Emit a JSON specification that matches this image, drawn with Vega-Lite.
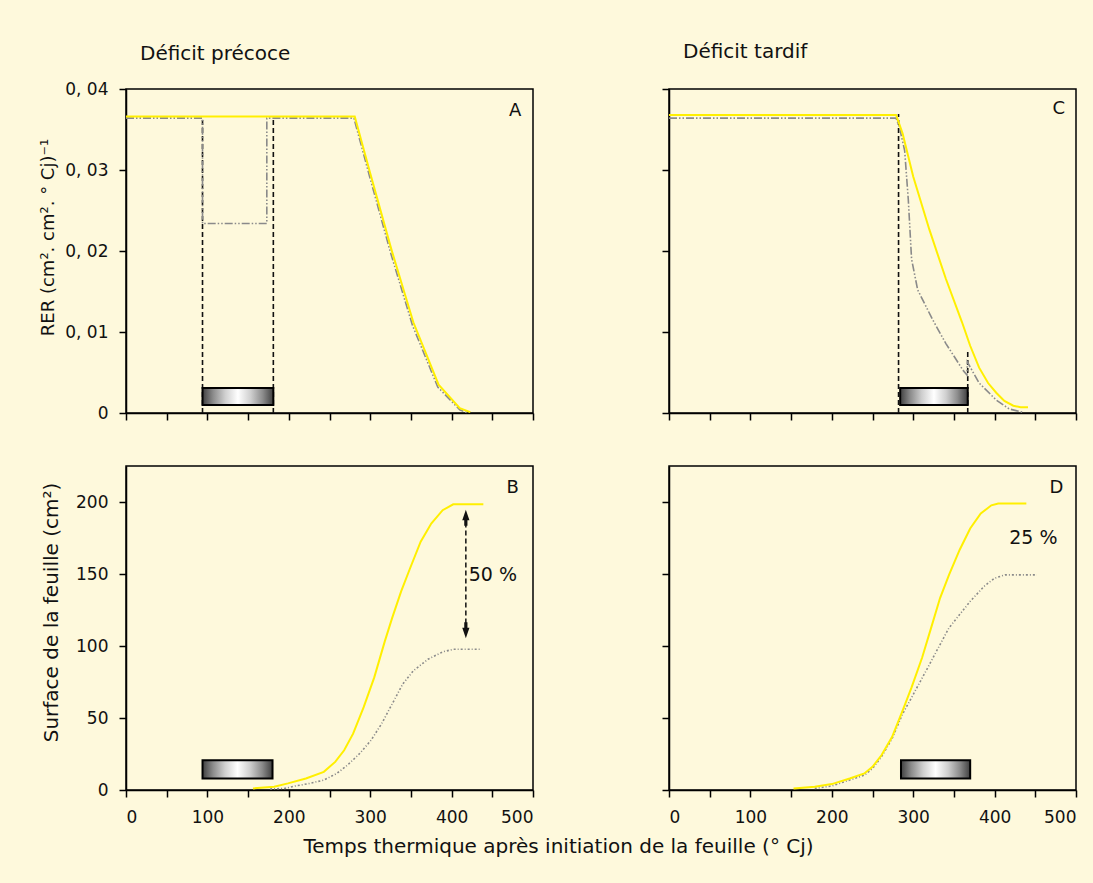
{
  "$schema": "https://vega.github.io/schema/vega-lite/v6.json",
  "background": "#FEF9DC",
  "padding": {"left": 38, "top": 41, "right": 30, "bottom": 60},
  "columns": 2,
  "spacing": {"row": 53, "column": 136},
  "bounds": "flush",
  "datasets": {
    "ctrlA": [
      {"t": 0, "v": 0.0366}, {"t": 281, "v": 0.0366}, {"t": 300, "v": 0.0296}, {"t": 326, "v": 0.0202},
      {"t": 353, "v": 0.0112}, {"t": 384, "v": 0.0035}, {"t": 410, "v": 0.0006}, {"t": 423, "v": 0.0001}
    ],
    "strA": [
      {"o": 1, "t": 0, "v": 0.0364}, {"o": 2, "t": 94, "v": 0.0364}, {"o": 3, "t": 94, "v": 0.0234},
      {"o": 4, "t": 173, "v": 0.0234}, {"o": 5, "t": 173, "v": 0.0364}, {"o": 6, "t": 280, "v": 0.0364},
      {"o": 7, "t": 299, "v": 0.0293}, {"o": 8, "t": 325, "v": 0.0198}, {"o": 9, "t": 352, "v": 0.0108},
      {"o": 10, "t": 383, "v": 0.0032}, {"o": 11, "t": 410, "v": 0.0004}, {"o": 12, "t": 420, "v": 0}
    ],
    "limA": [{"t": 94, "v": 0, "v2": 0.0366}, {"t": 181, "v": 0, "v2": 0.0366}],
    "barA": [{"t": 94, "t2": 181, "v": 0.001, "v2": 0.0031}],
    "labA": [{"t": 478, "v": 0.0373, "s": "A"}],
    "ctrlC": [
      {"t": 0, "v": 0.0368}, {"t": 279, "v": 0.0368}, {"t": 287, "v": 0.0345}, {"t": 300, "v": 0.0292},
      {"t": 320, "v": 0.0226}, {"t": 340, "v": 0.0166}, {"t": 360, "v": 0.0112}, {"t": 370, "v": 0.0083},
      {"t": 381, "v": 0.0056}, {"t": 392, "v": 0.0037}, {"t": 402, "v": 0.0025}, {"t": 412, "v": 0.0015},
      {"t": 423, "v": 0.0009}, {"t": 432, "v": 0.0007}, {"t": 441, "v": 0.0007}
    ],
    "strC": [
      {"o": 1, "t": 0, "v": 0.0364}, {"o": 2, "t": 279, "v": 0.0364}, {"o": 3, "t": 283, "v": 0.0353},
      {"o": 4, "t": 289.5, "v": 0.0324}, {"o": 5, "t": 294, "v": 0.0263}, {"o": 6, "t": 298, "v": 0.019},
      {"o": 7, "t": 305.5, "v": 0.0152}, {"o": 8, "t": 324, "v": 0.0115}, {"o": 9, "t": 340, "v": 0.0086},
      {"o": 10, "t": 361, "v": 0.0053}, {"o": 11, "t": 366, "v": 0.0047}, {"o": 12, "t": 366.5, "v": 0.0063},
      {"o": 13, "t": 381, "v": 0.0037}, {"o": 14, "t": 402, "v": 0.0016}, {"o": 15, "t": 418, "v": 0.0005},
      {"o": 16, "t": 434, "v": 0.0001}
    ],
    "limC": [{"t": 282, "v": 0, "v2": 0.0369}, {"t": 367, "v": 0, "v2": 0.0079}],
    "barC": [{"t": 284, "t2": 367, "v": 0.001, "v2": 0.0031}],
    "labC": [{"t": 479, "v": 0.0375, "s": "C"}],
    "ctrlB": [
      {"t": 156, "v": 1.1}, {"t": 182, "v": 2.3}, {"t": 199, "v": 4.6}, {"t": 221, "v": 8.0}, {"t": 243, "v": 12.6},
      {"t": 257, "v": 19.5}, {"t": 268, "v": 27.6}, {"t": 279, "v": 39.1}, {"t": 292, "v": 57.5}, {"t": 305, "v": 78.2},
      {"t": 318, "v": 103.4}, {"t": 327, "v": 119.5}, {"t": 338, "v": 137.9}, {"t": 349, "v": 154}, {"t": 362, "v": 172.4},
      {"t": 375, "v": 185}, {"t": 389, "v": 194.3}, {"t": 402, "v": 198.4}, {"t": 439, "v": 198.4}
    ],
    "strB": [
      {"t": 177, "v": 0.7}, {"t": 195, "v": 1.1}, {"t": 208, "v": 2.8}, {"t": 226, "v": 4.6}, {"t": 243, "v": 6.9},
      {"t": 259, "v": 11.5}, {"t": 272, "v": 17.2}, {"t": 287, "v": 25.3}, {"t": 301, "v": 34.5}, {"t": 314, "v": 46},
      {"t": 327, "v": 59.8}, {"t": 340, "v": 73.6}, {"t": 353, "v": 82.8}, {"t": 371, "v": 90.8}, {"t": 389, "v": 95.9},
      {"t": 402, "v": 97.7}, {"t": 437, "v": 97.7}
    ],
    "barB": [{"t": 94, "t2": 180, "v": 8, "v2": 20.7}],
    "arrowB": [{"t": 417.5, "v": 110, "v2": 190}],
    "headUp": [{"t": 417.5, "v": 189}],
    "headDown": [{"t": 417.5, "v": 111}],
    "labB": [{"t": 475, "v": 210, "s": "B"}],
    "noteB": [{"t": 421, "v": 149, "s": "50 %"}],
    "ctrlD": [
      {"t": 153, "v": 1.1}, {"t": 179, "v": 2.3}, {"t": 200, "v": 4.1}, {"t": 222, "v": 8.0}, {"t": 240, "v": 11.5},
      {"t": 250, "v": 16.1}, {"t": 261, "v": 24.1}, {"t": 274, "v": 36.8}, {"t": 287, "v": 55.2}, {"t": 298, "v": 71.3},
      {"t": 311, "v": 92}, {"t": 322, "v": 112.6}, {"t": 333, "v": 133.3}, {"t": 344, "v": 149.4}, {"t": 357, "v": 166.7},
      {"t": 370, "v": 181.6}, {"t": 383, "v": 192}, {"t": 396, "v": 197.7}, {"t": 404.5, "v": 198.9}, {"t": 439, "v": 198.9}
    ],
    "strD": [
      {"t": 179, "v": 1.1}, {"t": 200, "v": 2.8}, {"t": 222, "v": 6.9}, {"t": 240, "v": 10.3}, {"t": 250, "v": 14.9},
      {"t": 261, "v": 23}, {"t": 274, "v": 35.6}, {"t": 287, "v": 52.9}, {"t": 296, "v": 62.1}, {"t": 307, "v": 73.6},
      {"t": 318, "v": 85.1}, {"t": 331, "v": 98.9}, {"t": 344, "v": 112.6}, {"t": 357, "v": 121.8}, {"t": 370, "v": 131},
      {"t": 387, "v": 141.4}, {"t": 400, "v": 147.1}, {"t": 413, "v": 149.4}, {"t": 452, "v": 149.4}
    ],
    "barD": [{"t": 285, "t2": 370, "v": 8, "v2": 20.7}],
    "labD": [{"t": 476, "v": 210, "s": "D"}],
    "noteD": [{"t": 418, "v": 175, "s": "25 %"}]
  },
  "concat": [
    {
      "width": 407, "height": 324,
      "title": {"text": "Déficit précoce", "anchor": "start", "frame": "group", "dx": 14, "offset": 16},
      "encoding": {
        "x": {"type": "quantitative", "scale": {"domain": [0, 500], "nice": false},
              "axis": {"values": [0, 50, 100, 150, 200, 250, 300, 350, 400, 450, 500], "labels": false, "title": null}},
        "y": {"type": "quantitative", "scale": {"domain": [0, 0.04], "nice": false},
              "axis": {"values": [0, 0.01, 0.02, 0.03, 0.04],
                       "labelExpr": "datum.value == 0 ? '0' : replace(format(datum.value, '.2f'), '.', ', ')",
                       "title": "RER (cm². cm². ° Cj)⁻¹", "titleFontSize": 18, "titleX": -78, "titleY": 148}}
      },
      "layer": [
        {"data": {"name": "limA"}, "mark": {"type": "rule", "color": "#111", "strokeWidth": 1.6, "strokeDash": [5, 3]},
         "encoding": {"x": {"field": "t"}, "y": {"field": "v"}, "y2": {"field": "v2"}}},
        {"data": {"name": "strA"}, "mark": {"type": "line", "color": "#8a8a8a", "strokeWidth": 1.6, "strokeDash": [8, 2, 1.5, 2, 1.5, 2]},
         "encoding": {"x": {"field": "t"}, "y": {"field": "v"}, "order": {"field": "o"}}},
        {"data": {"name": "ctrlA"}, "mark": {"type": "line", "color": "#FFEF00", "strokeWidth": 2},
         "encoding": {"x": {"field": "t"}, "y": {"field": "v"}}},
        {"data": {"name": "barA"}, "mark": {"type": "rect", "stroke": "#000", "strokeWidth": 2,
           "fill": {"gradient": "linear", "stops": [
             {"offset": 0, "color": "#404040"}, {"offset": 0.15, "color": "#8c8c8c"}, {"offset": 0.32, "color": "#cfcfcf"},
             {"offset": 0.5, "color": "#ffffff"}, {"offset": 0.68, "color": "#cfcfcf"}, {"offset": 0.85, "color": "#8c8c8c"},
             {"offset": 1, "color": "#404040"}]}},
         "encoding": {"x": {"field": "t"}, "x2": {"field": "t2"}, "y": {"field": "v"}, "y2": {"field": "v2"}}},
        {"data": {"name": "labA"}, "mark": {"type": "text", "fontSize": 18, "color": "#111"},
         "encoding": {"x": {"field": "t"}, "y": {"field": "v"}, "text": {"field": "s"}}}
      ]
    },
    {
      "width": 407, "height": 324,
      "title": {"text": "Déficit tardif", "anchor": "start", "frame": "group", "dx": 14, "offset": 26},
      "encoding": {
        "x": {"type": "quantitative", "scale": {"domain": [0, 500], "nice": false},
              "axis": {"values": [0, 50, 100, 150, 200, 250, 300, 350, 400, 450, 500], "labels": false, "title": null}},
        "y": {"type": "quantitative", "scale": {"domain": [0, 0.04], "nice": false},
              "axis": {"values": [0, 0.01, 0.02, 0.03, 0.04], "labels": false, "title": null}}
      },
      "layer": [
        {"data": {"name": "limC"}, "mark": {"type": "rule", "color": "#111", "strokeWidth": 1.6, "strokeDash": [5, 3]},
         "encoding": {"x": {"field": "t"}, "y": {"field": "v"}, "y2": {"field": "v2"}}},
        {"data": {"name": "strC"}, "mark": {"type": "line", "color": "#8a8a8a", "strokeWidth": 1.6, "strokeDash": [8, 2, 1.5, 2, 1.5, 2]},
         "encoding": {"x": {"field": "t"}, "y": {"field": "v"}, "order": {"field": "o"}}},
        {"data": {"name": "ctrlC"}, "mark": {"type": "line", "color": "#FFEF00", "strokeWidth": 2},
         "encoding": {"x": {"field": "t"}, "y": {"field": "v"}}},
        {"data": {"name": "barC"}, "mark": {"type": "rect", "stroke": "#000", "strokeWidth": 2,
           "fill": {"gradient": "linear", "stops": [
             {"offset": 0, "color": "#404040"}, {"offset": 0.15, "color": "#8c8c8c"}, {"offset": 0.32, "color": "#cfcfcf"},
             {"offset": 0.5, "color": "#ffffff"}, {"offset": 0.68, "color": "#cfcfcf"}, {"offset": 0.85, "color": "#8c8c8c"},
             {"offset": 1, "color": "#404040"}]}},
         "encoding": {"x": {"field": "t"}, "x2": {"field": "t2"}, "y": {"field": "v"}, "y2": {"field": "v2"}}},
        {"data": {"name": "labC"}, "mark": {"type": "text", "fontSize": 18, "color": "#111"},
         "encoding": {"x": {"field": "t"}, "y": {"field": "v"}, "text": {"field": "s"}}}
      ]
    },
    {
      "width": 407, "height": 324,
      "encoding": {
        "x": {"type": "quantitative", "scale": {"domain": [0, 500], "nice": false},
              "axis": {"values": [0, 50, 100, 150, 200, 250, 300, 350, 400, 450, 500],
                       "labelExpr": "datum.value % 100 == 0 ? datum.label : ''", "labelPadding": 12,
                       "title": "Temps thermique après initiation de la feuille (° Cj)",
                       "titleFontSize": 20, "titleX": 432, "titleY": 56, "titleBaseline": "middle"}},
        "y": {"type": "quantitative", "scale": {"domain": [0, 225], "nice": false},
              "axis": {"values": [0, 50, 100, 150, 200],
                       "title": "Surface de la feuille (cm²)", "titleFontSize": 20, "titleX": -75, "titleY": 146}}
      },
      "layer": [
        {"data": {"name": "strB"}, "mark": {"type": "line", "color": "#8a8a8a", "strokeWidth": 1.6, "strokeDash": [2, 2, 1, 2]},
         "encoding": {"x": {"field": "t"}, "y": {"field": "v"}}},
        {"data": {"name": "ctrlB"}, "mark": {"type": "line", "color": "#FFEF00", "strokeWidth": 2},
         "encoding": {"x": {"field": "t"}, "y": {"field": "v"}}},
        {"data": {"name": "arrowB"}, "mark": {"type": "rule", "color": "#111", "strokeWidth": 1.5, "strokeDash": [5, 3]},
         "encoding": {"x": {"field": "t"}, "y": {"field": "v"}, "y2": {"field": "v2"}}},
        {"data": {"name": "headUp"}, "mark": {"type": "point", "filled": true, "color": "#111", "opacity": 1, "size": 256,
           "shape": "M0,-1L0.45,0.3L0.2,0.3L0.2,1L-0.2,1L-0.2,0.3L-0.45,0.3Z"},
         "encoding": {"x": {"field": "t"}, "y": {"field": "v"}}},
        {"data": {"name": "headDown"}, "mark": {"type": "point", "filled": true, "color": "#111", "opacity": 1, "size": 256,
           "shape": "M0,1L0.45,-0.3L0.2,-0.3L0.2,-1L-0.2,-1L-0.2,-0.3L-0.45,-0.3Z"},
         "encoding": {"x": {"field": "t"}, "y": {"field": "v"}}},
        {"data": {"name": "barB"}, "mark": {"type": "rect", "stroke": "#000", "strokeWidth": 2,
           "fill": {"gradient": "linear", "stops": [
             {"offset": 0, "color": "#404040"}, {"offset": 0.15, "color": "#8c8c8c"}, {"offset": 0.32, "color": "#cfcfcf"},
             {"offset": 0.5, "color": "#ffffff"}, {"offset": 0.68, "color": "#cfcfcf"}, {"offset": 0.85, "color": "#8c8c8c"},
             {"offset": 1, "color": "#404040"}]}},
         "encoding": {"x": {"field": "t"}, "x2": {"field": "t2"}, "y": {"field": "v"}, "y2": {"field": "v2"}}},
        {"data": {"name": "labB"}, "mark": {"type": "text", "fontSize": 18, "color": "#111"},
         "encoding": {"x": {"field": "t"}, "y": {"field": "v"}, "text": {"field": "s"}}},
        {"data": {"name": "noteB"}, "mark": {"type": "text", "fontSize": 19, "color": "#111", "align": "left"},
         "encoding": {"x": {"field": "t"}, "y": {"field": "v"}, "text": {"field": "s"}}}
      ]
    },
    {
      "width": 407, "height": 324,
      "encoding": {
        "x": {"type": "quantitative", "scale": {"domain": [0, 500], "nice": false},
              "axis": {"values": [0, 50, 100, 150, 200, 250, 300, 350, 400, 450, 500],
                       "labelExpr": "datum.value % 100 == 0 ? datum.label : ''", "labelPadding": 12, "title": null}},
        "y": {"type": "quantitative", "scale": {"domain": [0, 225], "nice": false},
              "axis": {"values": [0, 50, 100, 150, 200], "labels": false, "title": null}}
      },
      "layer": [
        {"data": {"name": "strD"}, "mark": {"type": "line", "color": "#8a8a8a", "strokeWidth": 1.6, "strokeDash": [2, 2, 1, 2]},
         "encoding": {"x": {"field": "t"}, "y": {"field": "v"}}},
        {"data": {"name": "ctrlD"}, "mark": {"type": "line", "color": "#FFEF00", "strokeWidth": 2},
         "encoding": {"x": {"field": "t"}, "y": {"field": "v"}}},
        {"data": {"name": "barD"}, "mark": {"type": "rect", "stroke": "#000", "strokeWidth": 2,
           "fill": {"gradient": "linear", "stops": [
             {"offset": 0, "color": "#404040"}, {"offset": 0.15, "color": "#8c8c8c"}, {"offset": 0.32, "color": "#cfcfcf"},
             {"offset": 0.5, "color": "#ffffff"}, {"offset": 0.68, "color": "#cfcfcf"}, {"offset": 0.85, "color": "#8c8c8c"},
             {"offset": 1, "color": "#404040"}]}},
         "encoding": {"x": {"field": "t"}, "x2": {"field": "t2"}, "y": {"field": "v"}, "y2": {"field": "v2"}}},
        {"data": {"name": "labD"}, "mark": {"type": "text", "fontSize": 18, "color": "#111"},
         "encoding": {"x": {"field": "t"}, "y": {"field": "v"}, "text": {"field": "s"}}},
        {"data": {"name": "noteD"}, "mark": {"type": "text", "fontSize": 19, "color": "#111", "align": "left"},
         "encoding": {"x": {"field": "t"}, "y": {"field": "v"}, "text": {"field": "s"}}}
      ]
    }
  ],
  "config": {
    "font": "DejaVu Sans",
    "view": {"stroke": "#000", "strokeWidth": 1.5, "fill": null},
    "axis": {
      "grid": false, "domainColor": "#000", "domainWidth": 1.5, "tickColor": "#000", "tickWidth": 1.5,
      "tickSize": 7, "labelFontSize": 17, "labelColor": "#111", "labelPadding": 10, "labelFont": "DejaVu Sans",
      "titleFontSize": 16, "titleFontWeight": "normal", "titleColor": "#111", "titleFont": "DejaVu Sans"
    },
    "axisY": {"titleAngle": -90, "titleAlign": "center", "titleBaseline": "middle", "labelPadding": 11},
    "title": {"fontSize": 20, "fontWeight": "normal", "color": "#111", "font": "DejaVu Sans"}
  }
}
